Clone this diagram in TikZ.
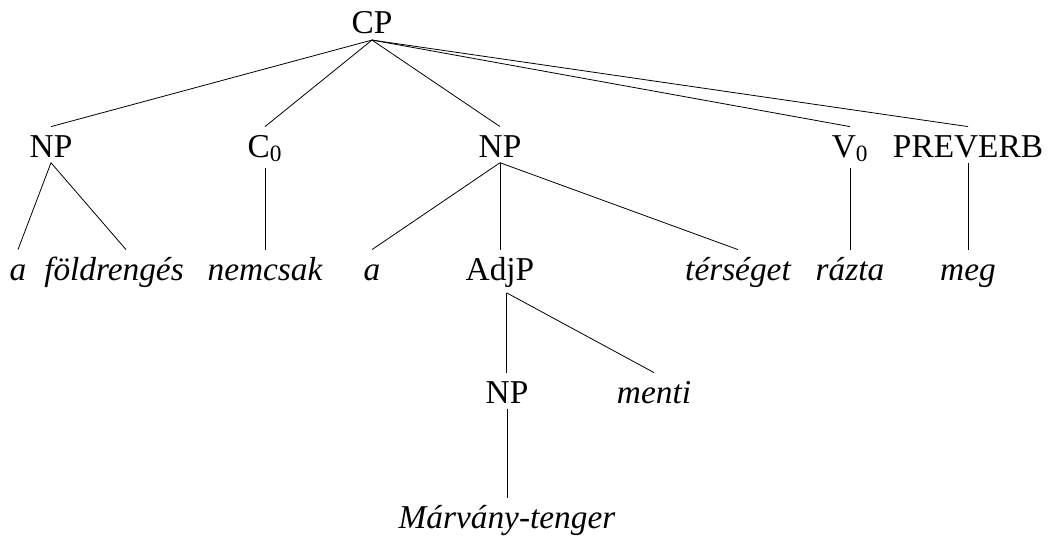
\documentclass[tikz,border=0pt]{standalone}
\usepackage{fontspec}
\setmainfont{Liberation Serif}
\usetikzlibrary{positioning}

\begin{document}
\begin{tikzpicture}[x=0.75pt,y=-0.75pt,
    cat/.style={anchor=base,inner xsep=1pt,inner ysep=4pt,text height=18.5pt,font=\fontsize{25}{30}\selectfont},
    word/.style={cat,font=\fontsize{25}{30}\selectfont\itshape},
    every path/.style={line width=0.6pt}]
  \useasboundingbox (0,0) rectangle (1058,542);
  \node[cat] (CP) at (372,34) {CP};
  \node[cat] (NPa) at (51,157) {NP};
  \node[cat] (C0) at (265,157) {C\textsubscript{0}};
  \node[cat] (NPb) at (500,157) {NP};
  \node[cat] (V0) at (850,157) {V\textsubscript{0}};
  \node[cat] (PV) at (968,157) {PREVERB};
  \node[word] (Wa) at (18,280) {a};
  \node[word] (Wfold) at (114,280) {földrengés};
  \node[word] (Wnem) at (265,280) {nemcsak};
  \node[word] (Wb) at (372,280) {a};
  \node[cat] (AdjP) at (500,280) {AdjP};
  \node[word] (Wters) at (738,280) {térséget};
  \node[word] (Wraz) at (850,280) {rázta};
  \node[word] (Wmeg) at (968,280) {meg};
  \node[cat] (NPc) at (507,403) {NP};
  \node[word] (Wmen) at (654,403) {menti};
  \node[word] (Wmarv) at (507,528) {Márvány-tenger};
  \draw (CP.south) -- (NPa.north);
  \draw (CP.south) -- (C0.north);
  \draw (CP.south) -- (NPb.north);
  \draw (CP.south) -- (V0.north);
  \draw (CP.south) -- (PV.north);
  \draw (NPa.south) -- (Wa.north);
  \draw (NPa.south) -- ([xshift=9pt]Wfold.north);
  \draw (C0.south) -- (Wnem.north);
  \draw (NPb.south) -- (Wb.north);
  \draw (NPb.south) -- (AdjP.north);
  \draw (NPb.south) -- (Wters.north);
  \draw (V0.south) -- (Wraz.north);
  \draw (PV.south) -- (Wmeg.north);
  \draw ([xshift=5pt]AdjP.south) -- ([xshift=5pt]AdjP.south |- NPc.north);
  \draw ([xshift=5pt]AdjP.south) -- (Wmen.north);
  \draw (NPc.south) -- (Wmarv.north);
\end{tikzpicture}
\end{document}
